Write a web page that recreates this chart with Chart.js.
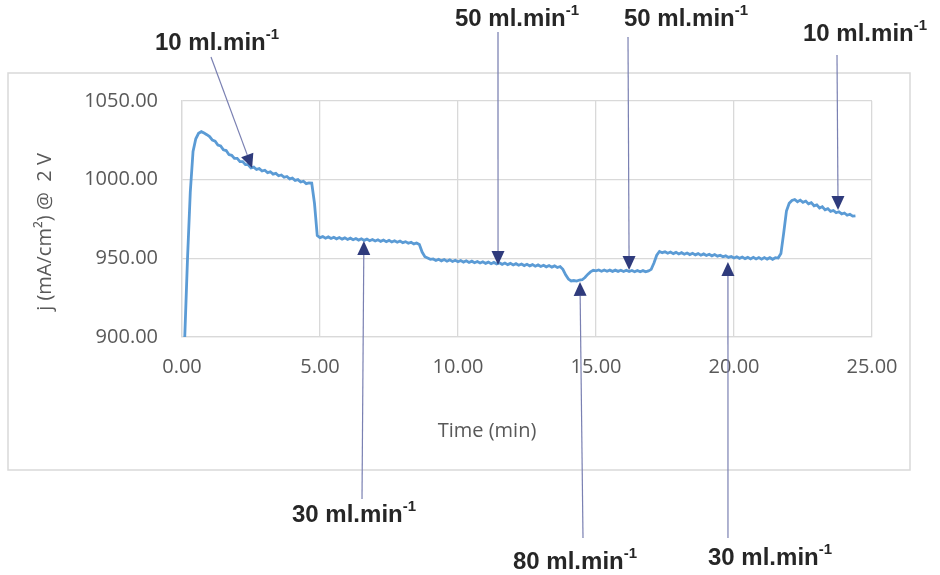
<!DOCTYPE html>
<html>
<head>
<meta charset="utf-8">
<script src="https://cdn.jsdelivr.net/npm/chart.js@4.4.1/dist/chart.umd.min.js"></script>
<style>
body { margin: 0; background: #fff; }
canvas { display: block; }
</style>
</head>
<body>
<canvas id="chart" width="940" height="575"></canvas>
<script>
// time axis (min)
const timeValues = [
0.1,0.2,0.3,0.4,0.5,0.6,0.7,0.8,0.9,1.0,
1.1,1.2,1.3,1.4,1.5,1.6,1.7,1.8,1.9,2.0,
2.1,2.2,2.3,2.4,2.5,2.6,2.7,2.8,2.9,3.0,
3.1,3.2,3.3,3.4,3.5,3.6,3.7,3.8,3.9,4.0,
4.1,4.2,4.3,4.4,4.5,4.6,4.7,4.8,4.9,5.0,
5.1,5.2,5.3,5.4,5.5,5.6,5.7,5.8,5.9,6.0,
6.1,6.2,6.3,6.4,6.5,6.6,6.7,6.8,6.9,7.0,
7.1,7.2,7.3,7.4,7.5,7.6,7.7,7.8,7.9,8.0,
8.1,8.2,8.3,8.4,8.5,8.6,8.7,8.8,8.9,9.0,
9.1,9.2,9.3,9.4,9.5,9.6,9.7,9.8,9.9,10.0,
10.1,10.2,10.3,10.4,10.5,10.6,10.7,10.8,10.9,11.0,
11.1,11.2,11.3,11.4,11.5,11.6,11.7,11.8,11.9,12.0,
12.1,12.2,12.3,12.4,12.5,12.6,12.7,12.8,12.9,13.0,
13.1,13.2,13.3,13.4,13.5,13.6,13.7,13.8,13.9,14.0,
14.1,14.2,14.3,14.4,14.5,14.6,14.7,14.8,14.9,15.0,
15.1,15.2,15.3,15.4,15.5,15.6,15.7,15.8,15.9,16.0,
16.1,16.2,16.3,16.4,16.5,16.6,16.7,16.8,16.9,17.0,
17.1,17.2,17.3,17.4,17.5,17.6,17.7,17.8,17.9,18.0,
18.1,18.2,18.3,18.4,18.5,18.6,18.7,18.8,18.9,19.0,
19.1,19.2,19.3,19.4,19.5,19.6,19.7,19.8,19.9,20.0,
20.1,20.2,20.3,20.4,20.5,20.6,20.7,20.8,20.9,21.0,
21.1,21.2,21.3,21.4,21.5,21.6,21.7,21.8,21.9,22.0,
22.1,22.2,22.3,22.4,22.5,22.6,22.7,22.8,22.9,23.0,
23.1,23.2,23.3,23.4,23.5,23.6,23.7,23.8,23.9,24.0,
24.1,24.2,24.3,24.4
];

// current density j (mA/cm2) at 2 V
const currentValues = [
900,950,992,1018,1026,1029.5,1030.5,1029.6,1028.6,1027.4,
1025.1,1024.5,1022.0,1021.5,1019.0,1018.5,1016.0,1015.5,1013.5,1013.5,
1011.5,1011.5,1009.5,1009.5,1007.5,1008,1006.5,1007,1005.5,1006,
1004.5,1005,1003.5,1004,1002.5,1003,1001.5,1002,1000.5,1001,
999.5,1000,998.5,999,997.5,998,997.8,985,964.5,963.2,
963.8,962.8,963.6,962.6,963.4,962.4,963.2,962.2,963.0,962.0,
962.8,961.8,962.6,961.6,962.4,961.4,962.2,961.2,962.0,961.0,
961.8,960.8,961.6,960.6,961.4,960.4,961.2,960.2,961.0,960.0,
960.6,959.6,960.2,959.2,959.8,958.8,954,951,950.2,949.4,
949.6,948.6,949.4,948.4,949.2,948.2,949.0,948.0,948.8,947.8,
948.6,947.6,948.4,947.4,948.2,947.2,948.0,947.0,947.8,946.8,
947.6,946.6,947.4,946.4,947.2,946.2,947.0,946.0,946.8,945.8,
946.6,945.6,946.4,945.4,946.2,945.2,946.0,945.0,945.8,944.8,
945.6,944.6,945.4,944.4,945.2,944.2,944.8,943,939.5,936.8,
935.6,935.9,935.5,936.2,936.4,937.8,939.8,941.4,942.4,942.0,
942.6,941.8,942.6,941.8,942.5,941.7,942.5,941.7,942.4,941.6,
942.4,941.6,942.3,941.5,942.3,941.5,942.2,941.4,942.0,943,
947,952,954.4,953.6,954.2,953.2,954.0,953.0,953.8,952.8,
953.6,952.6,953.4,952.4,953.2,952.2,953.0,952.0,952.8,951.8,
952.6,951.6,952.4,951.4,952.0,951.0,951.6,950.6,951.2,950.2,
951.0,950.0,950.8,949.8,950.6,949.6,950.6,949.6,950.5,949.5,
950.5,949.5,950.4,949.4,950.4,950.2,953,966,980,985,
986.8,987.4,986.0,987.0,985.6,986.4,984.6,985.4,983.4,984.0,
982.0,982.8,980.8,981.6,979.8,980.4,979.0,979.6,978.2,978.8,
977.4,978.0,976.8,977.0
];

const xTicks = [0, 5, 10, 15, 20, 25];
const yTicks = [900, 950, 1000, 1050];

// flow-rate labels and where their arrows point (time, j)
const flowLabels = ["10", "30", "50", "80", "50", "30", "10"];
const arrowTime = [2.54, 6.59, 11.45, 14.42, 16.2, 19.78, 23.77];
const arrowValue = [1007.4, 961, 945.8, 935, 942.6, 947.7, 980.7];

// layout of the labels (pixels): text left/middle and arrow tail
const labelPos = [
  {tx: 155, ty: 43, ax: 211, ay: 57},
  {tx: 292, ty: 515, ax: 362, ay: 499},
  {tx: 455, ty: 19, ax: 498, ay: 32},
  {tx: 513, ty: 562, ax: 583, ay: 538},
  {tx: 624, ty: 19, ax: 628, ay: 37},
  {tx: 708, ty: 558, ax: 728, ay: 538},
  {tx: 803, ty: 34, ax: 837, ay: 55}
];

const points = timeValues.map((t, i) => ({x: t, y: currentValues[i]}));

const extras = {
  id: "extras",
  beforeDraw(chart) {
    const c = chart.ctx;
    c.save();
    c.fillStyle = "#fff";
    c.fillRect(0, 0, chart.width, chart.height);
    c.strokeStyle = "#d9d9d9";
    c.lineWidth = 1.5;
    c.strokeRect(8, 73, 902, 397);
    c.restore();
  },
  afterDraw(chart) {
    const c = chart.ctx;
    const xs = chart.scales.x, ys = chart.scales.y;
    c.save();
    // axis titles
    c.fillStyle = "#595959";
    c.font = "20px 'Open Sans'";
    c.textAlign = "center";
    c.textBaseline = "middle";
    c.fillText("Time (min)", 487, 431);
    c.translate(45, 232);
    c.rotate(-Math.PI / 2);
    c.fillText("j (mA/cm\u00B2) @  2 V", 0, 0);
    c.restore();

    // annotations
    flowLabels.forEach((lab, i) => {
      const p = labelPos[i];
      const tipX = xs.getPixelForValue(arrowTime[i]);
      const tipY = ys.getPixelForValue(arrowValue[i]);
      const ang = Math.atan2(tipY - p.ay, tipX - p.ax);
      const headLen = 14, headW = 6.5;
      const bx = tipX - headLen * Math.cos(ang), by = tipY - headLen * Math.sin(ang);
      c.save();
      c.strokeStyle = "#7a80b2";
      c.lineWidth = 1.2;
      c.beginPath();
      c.moveTo(p.ax, p.ay);
      c.lineTo(bx, by);
      c.stroke();
      c.fillStyle = "#2f3b7c";
      c.beginPath();
      c.moveTo(tipX, tipY);
      c.lineTo(bx + headW * Math.sin(ang), by - headW * Math.cos(ang));
      c.lineTo(bx - headW * Math.sin(ang), by + headW * Math.cos(ang));
      c.closePath();
      c.fill();

      c.fillStyle = "#262626";
      c.textAlign = "left";
      c.textBaseline = "middle";
      c.font = "bold 24px 'Liberation Sans'";
      const main = lab + " ml.min";
      c.fillText(main, p.tx, p.ty);
      const w = c.measureText(main).width;
      c.font = "bold 15px 'Liberation Sans'";
      c.fillText("-1", p.tx + w, p.ty - 8);
      c.restore();
    });
  }
};

new Chart(document.getElementById("chart"), {
  type: "line",
  data: {
    datasets: [{
      data: points,
      borderColor: "#5b9bd5",
      borderWidth: 2.8,
      pointRadius: 0,
      tension: 0,
      fill: false
    }]
  },
  options: {
    responsive: false,
    animation: false,
    layout: { padding: { top: 101, right: 68, left: 0, bottom: 0 } },
    plugins: { legend: { display: false }, tooltip: { enabled: false } },
    scales: {
      x: {
        type: "linear",
        min: 0, max: 25,
        afterFit: s => { s.height = 238; },
        afterBuildTicks: s => { s.ticks = xTicks.map(v => ({value: v})); },
        grid: { color: "#d9d9d9", lineWidth: 1.3, drawTicks: false },
        border: { color: "#d9d9d9", width: 1.3 },
        ticks: {
          padding: 18,
          color: "#595959",
          font: { family: "'Open Sans'", size: 20 },
          callback: v => v.toFixed(2)
        }
      },
      y: {
        min: 900, max: 1050,
        afterFit: s => { s.width = 182; },
        afterBuildTicks: s => { s.ticks = yTicks.map(v => ({value: v})); },
        grid: { color: "#d9d9d9", lineWidth: 1.3, drawTicks: false },
        border: { color: "#d9d9d9", width: 1.3 },
        ticks: {
          padding: 24,
          color: "#595959",
          font: { family: "'Open Sans'", size: 20 },
          callback: v => v.toFixed(2)
        }
      }
    }
  },
  plugins: [extras]
});
</script>
</body>
</html>
